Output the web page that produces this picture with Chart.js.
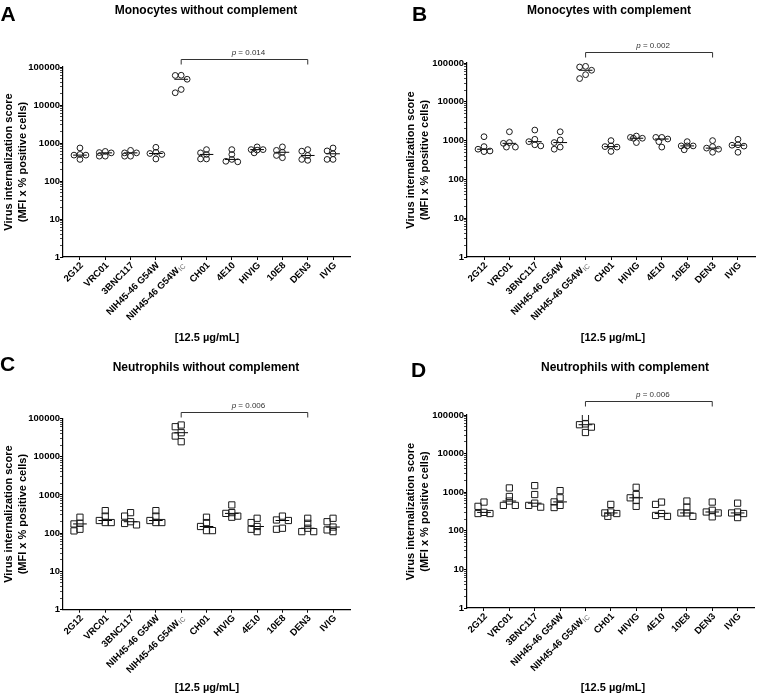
<!DOCTYPE html>
<html>
<head>
<meta charset="utf-8">
<script src="https://cdn.jsdelivr.net/npm/chart.js@4.4.1/dist/chart.umd.min.js"></script>
<style>
  body { margin: 0; background: #fff; }
  #fig { position: relative; width: 760px; height: 693px; overflow: hidden; font-family: "Liberation Sans", Arial, sans-serif; }
  canvas { position: absolute; }
  .t { position: absolute; transform: translate(-50%, -50%); white-space: nowrap; font-weight: bold; line-height: 1; color: #000; }
  .letter { font-size: 21px; }
  .title { font-size: 12px; }
  .xt { font-size: 11px; }
</style>
</head>
<body>
<div id="fig"></div>
<script>
// categories (panel A has 4E10 before HIVIG, the others the other way round)
const catsA = ['2G12', 'VRC01', '3BNC117', 'NIH45-46 G54W', 'NIH45-46 G54W_IC', 'CH01', '4E10', 'HIVIG', '10E8', 'DEN3', 'IVIG'];
const catsB = ['2G12', 'VRC01', '3BNC117', 'NIH45-46 G54W', 'NIH45-46 G54W_IC', 'CH01', 'HIVIG', '4E10', '10E8', 'DEN3', 'IVIG'];

// five donors per group
const monoNoComp = [
  [740, 500, 480, 480, 370],
  [600, 560, 550, 450, 450],
  [640, 550, 550, 450, 450],
  [770, 570, 530, 500, 380],
  [60600, 60000, 47600, 25600, 21000],
  [670, 550, 500, 380, 380],
  [670, 500, 370, 330, 320],
  [790, 670, 670, 650, 550],
  [790, 640, 570, 470, 410],
  [670, 610, 470, 370, 350],
  [740, 620, 520, 370, 370]
];
const monoComp = [
  [1260, 700, 600, 540, 520],
  [1690, 890, 850, 680, 680],
  [1870, 1080, 940, 780, 730],
  [1690, 1040, 890, 680, 600],
  [82000, 79000, 65000, 50000, 39700],
  [1000, 730, 700, 680, 525],
  [1310, 1210, 1150, 1150, 890],
  [1210, 1210, 1100, 940, 680],
  [940, 730, 730, 730, 580],
  [1000, 700, 640, 600, 500],
  [1080, 780, 760, 720, 500]
];
const neutNoComp = [
  [262, 182, 175, 127, 115],
  [390, 280, 215, 190, 190],
  [345, 280, 200, 180, 165],
  [390, 280, 215, 190, 190],
  [67600, 61000, 42500, 34800, 24700],
  [262, 190, 150, 117, 117],
  [550, 345, 330, 280, 262],
  [246, 190, 150, 127, 110],
  [280, 222, 215, 135, 127],
  [246, 182, 135, 110, 110],
  [246, 200, 145, 122, 110]
];
const neutComp = [
  [555, 430, 300, 280, 280],
  [1290, 775, 590, 455, 455],
  [1480, 870, 520, 455, 410],
  [1100, 715, 560, 455, 400],
  [87000, 58800, 56000, 48500, 35200],
  [483, 307, 290, 280, 237],
  [1340, 870, 715, 610, 430],
  [555, 483, 280, 250, 237],
  [590, 410, 290, 290, 237],
  [555, 340, 307, 290, 230],
  [520, 307, 290, 280, 220]
];

const yTicks = [1, 10, 100, 1000, 10000, 100000];
const pValues = ['0.014', '0.002', '0.006', '0.006'];
const bracketPair = ['NIH45-46 G54W_IC', 'DEN3'];
const panelLetters = ['A', 'B', 'C', 'D'];
const panelTitles = ['Monocytes without complement', 'Monocytes with complement', 'Neutrophils without complement', 'Neutrophils with complement'];
const xTitle = '[12.5 µg/mL]';
const yTitle = ['Virus internalization score', '(MFI x % positive cells)'];

const FONT = '"Liberation Sans", Arial, sans-serif';

// layout of each panel on the page
const panels = [
  { cats: catsA, vals: monoNoComp, shape: 'circle', left: 0, top: 0, h: 346, padL: 0, yW: 63, padTop: 67, padR: 30, xH: 89, gap: 8,
    letter: [8, 12.5], title: [206, 10], xt: [207, 337] },
  { cats: catsB, vals: monoComp, shape: 'circle', left: 380, top: 0, h: 346, padL: 22, yW: 65, padTop: 63, padR: 0, xH: 89, gap: 11,
    letter: [419.5, 12.5], title: [609, 10], xt: [613, 337] },
  { cats: catsB, vals: neutNoComp, shape: 'rect', left: 0, top: 346, h: 347, padL: 0, yW: 63, padTop: 72.5, padR: 30, xH: 83.3, gap: 6.5,
    letter: [7.5, 362.5], title: [206, 367], xt: [207, 687] },
  { cats: catsB, vals: neutComp, shape: 'rect', left: 380, top: 346, h: 347, padL: 22, yW: 65, padTop: 69, padR: 0, xH: 85, gap: 14,
    letter: [418.5, 368.5], title: [625, 367], xt: [613, 687] }
];

function median(a) {
  const s = a.slice().sort((p, q) => p - q);
  return s[Math.floor(s.length / 2)];
}

// compact beeswarm: three columns, markers may overlap a little
function swarm(vals, pxPerUnit, pxPerDec, minDist, step) {
  const placed = [];
  const off = new Array(vals.length).fill(0);
  const idx = vals.map((v, i) => i).sort((a, b) => vals[b] - vals[a]);
  const cands = [0, -step, step, -step / 2, step / 2];
  idx.forEach(i => {
    const y = Math.log10(vals[i]) * pxPerDec;
    let best = 0, bestD = -1;
    for (const x of cands) {
      const d = placed.length ? Math.min(...placed.map(q => Math.hypot(q.x - x, q.y - y))) : Infinity;
      if (d >= minDist) { best = x; bestD = Infinity; break; }
      if (d > bestD) { bestD = d; best = x; }
    }
    placed.push({ x: best, y });
    off[i] = best / pxPerUnit;
  });
  return off;
}

// minor log ticks 2..9 x 10^n
const yTickList = [];
yTicks.forEach(d => {
  yTickList.push(d);
  if (d < 100000) for (let k = 2; k <= 9; k++) yTickList.push(k * d);
});

// rotated category labels with the IC subscript
const xLabels = {
  id: 'xLabels',
  afterDraw(chart, args, opts) {
    const ctx = chart.ctx;
    const xs = chart.scales.x;
    opts.cats.forEach((c, i) => {
      const parts = c.split('_');
      const px = xs.getPixelForValue(i);
      ctx.save();
      ctx.translate(px + 2, xs.top + 7);
      ctx.rotate(-Math.PI / 4);
      ctx.textAlign = 'right';
      ctx.textBaseline = 'middle';
      let x = 0;
      if (parts[1]) {
        ctx.font = '7px ' + FONT;
        ctx.fillStyle = '#666';
        ctx.fillText(parts[1], 0, 2);
        x = -ctx.measureText(parts[1]).width - 0.5;
      }
      ctx.font = 'bold 9.5px ' + FONT;
      ctx.fillStyle = '#000';
      ctx.fillText(parts[0], x, 0);
      ctx.restore();
    });
  }
};

// significance bracket above the plot
const bracket = {
  id: 'bracket',
  afterDraw(chart, args, opts) {
    const ctx = chart.ctx;
    const xs = chart.scales.x;
    const x1 = xs.getPixelForValue(opts.cats.indexOf(bracketPair[0]));
    const x2 = xs.getPixelForValue(opts.cats.indexOf(bracketPair[1]));
    const y = Math.round(chart.chartArea.top - opts.gap) + 0.5;
    ctx.save();
    ctx.strokeStyle = '#333';
    ctx.lineWidth = 1;
    ctx.beginPath();
    ctx.moveTo(x1, y + 5); ctx.lineTo(x1, y); ctx.lineTo(x2, y); ctx.lineTo(x2, y + 5);
    ctx.stroke();
    ctx.fillStyle = '#333';
    ctx.textBaseline = 'middle';
    ctx.textAlign = 'left';
    ctx.font = 'italic 8px ' + FONT;
    const wp = ctx.measureText('p').width;
    ctx.font = '8px ' + FONT;
    const rest = ' = ' + opts.p;
    const wr = ctx.measureText(rest).width;
    const tx = (x1 + x2) / 2 - (wp + wr) / 2 + 4;
    ctx.font = 'italic 8px ' + FONT;
    ctx.fillText('p', tx, y - 7);
    ctx.font = '8px ' + FONT;
    ctx.fillText(rest, tx + wp, y - 7);
    ctx.restore();
  }
};

const fig = document.getElementById('fig');

function addText(cls, text, pos) {
  const d = document.createElement('div');
  d.className = 't ' + cls;
  d.textContent = text;
  d.style.left = pos[0] + 'px';
  d.style.top = pos[1] + 'px';
  fig.appendChild(d);
}

panels.forEach((p, n) => {
  const cv = document.createElement('canvas');
  cv.width = 380; cv.height = p.h;
  cv.style.left = p.left + 'px'; cv.style.top = p.top + 'px';
  fig.appendChild(cv);

  const points = [];
  const medLine = [];
  p.vals.forEach((g, i) => {
    const off = swarm(g, 25.5, 38.4, 4.5, 6);
    g.forEach((v, j) => points.push({ x: i + off[j], y: v }));
    const m = median(g);
    medLine.push({ x: i - 0.27, y: m }, { x: i + 0.27, y: m }, { x: i + 0.3, y: null });
  });

  new Chart(cv, {
    type: 'scatter',
    data: {
      datasets: [
        {
          data: points,
          pointStyle: p.shape,
          pointRadius: p.shape === 'rect' ? 4.4 : 2.9,
          borderWidth: 1,
          borderColor: '#1a1a1a',
          backgroundColor: 'rgba(0,0,0,0)',
          showLine: false
        },
        {
          type: 'line',
          data: medLine,
          borderColor: '#000',
          borderWidth: 1,
          pointRadius: 0,
          spanGaps: false,
          fill: false
        }
      ]
    },
    options: {
      responsive: false,
      animation: false,
      devicePixelRatio: 1,
      events: [],
      layout: { padding: { left: p.padL, top: p.padTop, right: p.padR, bottom: 0 } },
      plugins: {
        legend: { display: false },
        tooltip: { enabled: false },
        xLabels: { cats: p.cats },
        bracket: { cats: p.cats, gap: p.gap, p: pValues[n] }
      },
      scales: {
        x: {
          type: 'linear',
          min: -0.67,
          max: 10.67,
          afterFit: s => { s.height = p.xH; },
          afterBuildTicks: s => { s.ticks = p.cats.map((c, i) => ({ value: i })); },
          ticks: { display: false },
          grid: { display: true, drawOnChartArea: false, drawTicks: true, tickLength: 3, color: '#000' },
          border: { display: true, color: '#000', width: 1.2 }
        },
        y: {
          type: 'logarithmic',
          min: 1,
          max: 100000,
          afterFit: s => { s.width = p.yW; },
          afterBuildTicks: s => { s.ticks = yTickList.map(v => ({ value: v, major: yTicks.includes(v) })); },
          ticks: {
            autoSkip: false,
            padding: 0,
            color: '#000',
            font: { family: FONT, size: 9.5, weight: 'bold' },
            callback: v => (yTicks.includes(v) ? String(v) : '')
          },
          grid: {
            display: true, drawOnChartArea: false, drawTicks: true, tickLength: 3, color: '#000',
            tickWidth: c => (c.tick && yTicks.includes(c.tick.value) ? 1 : 0.7)
          },
          border: { display: true, color: '#000', width: 1.2 },
          title: {
            display: true,
            text: yTitle,
            color: '#000',
            font: { family: FONT, size: 11, weight: 'bold', lineHeight: 1.3 },
            padding: { top: 1.6, bottom: 0 }
          }
        }
      }
    },
    plugins: [xLabels, bracket]
  });

  addText('letter', panelLetters[n], p.letter);
  addText('title', panelTitles[n], p.title);
  addText('xt', xTitle, p.xt);
});
</script>
</body>
</html>
